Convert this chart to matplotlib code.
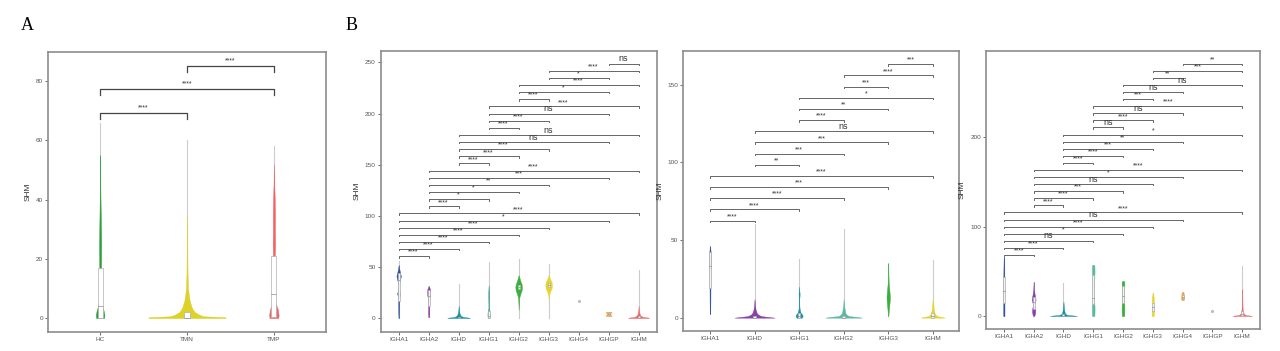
import matplotlib
matplotlib.use("Agg")
import matplotlib.pyplot as plt

plt.rcParams["font.family"] = ["Liberation Sans", "DejaVu Sans"]

# ---------------- panel A ----------------
a_groups = ["HC", "TMN", "TMP"]
a_colors = ["#2e9e3a", "#ddd22a", "#f06464"]
a_range = [(0, 66), (0, 60), (0, 58)]
a_prof_y = [
    [0, 1, 2.5, 4, 6, 10, 17, 25, 35, 45, 55],
    [0, 0.3, 0.6, 1, 1.5, 2, 3, 4, 5, 6, 8, 10, 15, 25, 35],
    [0, 1, 3, 5, 8, 12, 20, 25, 30, 35, 40, 45, 52],
]
a_prof_w = [
    [0.045, 0.05, 0.04, 0.025, 0.015, 0.012, 0.01, 0.012, 0.007, 0.002, 0.0],
    [0.445, 0.44, 0.2, 0.15, 0.12, 0.09, 0.065, 0.05, 0.04, 0.03, 0.02, 0.012, 0.006, 0.003, 0.0],
    [0.05, 0.055, 0.045, 0.02, 0.012, 0.01, 0.01, 0.014, 0.012, 0.013, 0.01, 0.004, 0.0],
]
a_box = [(0, 4, 17), (0, 0, 2), (0.5, 8, 21)]
a_pairs = [(1, 2), (1, 3), (2, 3)]
a_labels = ["****", "****", "****"]

# ---------------- panel B1 ----------------
b1_groups = ["IGHA1", "IGHA2", "IGHD", "IGHG1", "IGHG2", "IGHG3", "IGHG4", "IGHGP", "IGHM"]
b1_colors = ["#2d4e9c", "#8a3fa5", "#1b8fa8", "#3aa08a", "#3baf3b", "#e5d52e", "#f0a23c", "#f0a23c", "#ee6a6a"]
b1_range = [(0, 56), (1, 31), (0, 33), (0, 55), (0, 58), (0, 53), (17, 17), (2, 6), (0, 47)]
b1_prof_y = [
    [0, 5, 10, 15, 20, 24, 26, 30, 35, 38, 41, 44, 48, 52],
    [1, 5, 10, 15, 20, 22, 25, 28, 31],
    [0, 0.5, 1, 2, 3, 5, 8, 12],
    [0, 2, 4, 6, 8, 10, 15, 20, 25, 28, 32],
    [8, 14, 20, 24, 27, 30, 33, 36, 42],
    [18, 22, 26, 29, 32, 35, 38, 42],
    [],
    [2, 3, 4, 5, 6],
    [0, 0.5, 1, 2, 3, 5, 8, 12],
]
b1_prof_w = [
    [0.008, 0.012, 0.015, 0.015, 0.02, 0.05, 0.03, 0.018, 0.03, 0.05, 0.075, 0.05, 0.02, 0],
    [0.015, 0.02, 0.018, 0.018, 0.03, 0.045, 0.05, 0.045, 0.01],
    [0.38, 0.3, 0.15, 0.08, 0.05, 0.025, 0.01, 0],
    [0.03, 0.04, 0.04, 0.035, 0.02, 0.008, 0.01, 0.014, 0.014, 0.008, 0],
    [0, 0.008, 0.02, 0.06, 0.1, 0.11, 0.1, 0.06, 0],
    [0, 0.01, 0.05, 0.1, 0.11, 0.1, 0.05, 0],
    [],
    [0.1, 0.08, 0.05, 0.08, 0.1],
    [0.35, 0.3, 0.15, 0.08, 0.05, 0.025, 0.01, 0],
]
b1_box = [(17, 37, 44), (12, 22, 27), (0, 0, 1), (0, 2, 7), (28, 30, 32), (30, 32, 34), None, (3, 4, 5), (0, 0, 2)]
b1_pairs = [(1, 2), (1, 3), (1, 4), (1, 5), (1, 6), (1, 8), (1, 9),
            (2, 3), (2, 4), (2, 5), (2, 6), (2, 8), (2, 9),
            (3, 4), (3, 5), (3, 6), (3, 8), (3, 9),
            (4, 5), (4, 6), (4, 8), (4, 9),
            (5, 6), (5, 8), (5, 9), (6, 8), (6, 9), (8, 9)]
b1_labels = ["****", "****", "****", "****", "****", "*", "****",
             "****", "*", "*", "**", "***", "****",
             "****", "****", "****", "ns", "ns",
             "****", "****", "ns", "****",
             "****", "*", "****", "*", "****", "ns"]

# ---------------- panel B2 ----------------
b2_groups = ["IGHA1", "IGHD", "IGHG1", "IGHG2", "IGHG3", "IGHM"]
b2_colors = ["#2d4e9c", "#8a3fa5", "#1b8fa8", "#5db8a0", "#3baf3b", "#e5d52e"]
b2_range = [(2.4, 46), (0, 60.5), (0, 38), (0, 57), (1, 35), (0, 37)]
b2_prof_y = [
    [2.4, 10, 19, 30, 34, 38, 42, 46],
    [0, 0.5, 1, 2, 3, 5, 8, 12],
    [0, 1, 2, 3, 4, 6, 8, 12, 14, 15.5, 17, 20],
    [0, 0.5, 1, 2, 3, 5, 8, 12],
    [1, 4, 8, 11, 13, 15, 18, 22, 27, 35],
    [0, 0.5, 1, 2, 3, 5, 8, 12],
]
b2_prof_w = [
    [0.005, 0.008, 0.01, 0.012, 0.02, 0.02, 0.015, 0.003],
    [0.45, 0.3, 0.15, 0.08, 0.05, 0.025, 0.01, 0],
    [0.06, 0.08, 0.07, 0.04, 0.025, 0.01, 0.005, 0.003, 0.01, 0.012, 0.006, 0],
    [0.41, 0.3, 0.12, 0.06, 0.04, 0.025, 0.01, 0],
    [0.003, 0.012, 0.025, 0.035, 0.038, 0.035, 0.025, 0.012, 0.006, 0.002],
    [0.27, 0.2, 0.1, 0.06, 0.04, 0.025, 0.015, 0],
]
b2_box = [(19, 33, 42), (0, 0, 1), (0, 1, 3), (0, 0, 1), None, (0, 1, 3)]
b2_pairs = [(1, 2), (1, 3), (1, 4), (1, 5), (1, 6),
            (2, 3), (2, 4), (2, 5), (2, 6),
            (3, 4), (3, 5), (3, 6), (4, 5), (4, 6), (5, 6)]
b2_labels = ["****", "****", "****", "***", "****",
             "**", "***", "***", "ns",
             "****", "**", "*", "***", "****", "***"]

# ---------------- panel B3 ----------------
b3_groups = ["IGHA1", "IGHA2", "IGHD", "IGHG1", "IGHG2", "IGHG3", "IGHG4", "IGHGP", "IGHM"]
b3_colors = ["#2d4e9c", "#8a3fa5", "#1b8fa8", "#5db8a0", "#3baf3b", "#e5d52e", "#f0a23c", "#f0a23c", "#ee6a6a"]
b3_range = [(0, 66), (0, 38), (0, 37), (0, 57), (0, 39), (0, 25.4), (18, 27), (5.6, 5.6), (0, 56)]
b3_prof_y = [
    [0, 10, 20, 25, 28, 32, 40, 50, 60, 66],
    [0, 2, 5, 8, 11, 13, 15, 18, 21, 25, 30, 38],
    [0, 0.5, 1, 2, 3, 5, 8, 12, 16],
    [0, 5, 10, 13, 20, 30, 45, 50, 57],
    [0, 5, 10, 15, 20, 25, 30, 33, 36, 39],
    [0, 3, 6, 9, 12, 15, 18, 21, 25],
    [18, 19, 20, 21, 23, 25, 26, 27],
    [],
    [0, 0.5, 1, 2, 3, 5, 8, 12, 20, 30],
]
b3_prof_w = [
    [0.02, 0.02, 0.018, 0.02, 0.025, 0.02, 0.018, 0.015, 0.01, 0.003],
    [0.02, 0.04, 0.055, 0.05, 0.03, 0.02, 0.04, 0.065, 0.055, 0.03, 0.012, 0.002],
    [0.45, 0.35, 0.15, 0.08, 0.05, 0.035, 0.02, 0.01, 0],
    [0.04, 0.045, 0.045, 0.04, 0.03, 0.03, 0.04, 0.045, 0.04],
    [0.04, 0.045, 0.045, 0.04, 0.03, 0.03, 0.035, 0.045, 0.045, 0.04],
    [0.03, 0.04, 0.04, 0.035, 0.03, 0.03, 0.035, 0.03, 0.01],
    [0.04, 0.055, 0.055, 0.05, 0.04, 0.04, 0.03, 0.01],
    [],
    [0.33, 0.25, 0.12, 0.07, 0.05, 0.03, 0.018, 0.012, 0.006, 0],
]
b3_box = [(14, 28, 44), (8, 16, 21), (0, 0, 2), (13, 20, 46), (15, 22, 33), (5, 10, 15), (20, 21, 23), None, (0, 2, 5)]
b3_pairs = [(1, 2), (1, 3), (1, 4), (1, 5), (1, 6), (1, 7), (1, 9),
            (2, 3), (2, 4), (2, 5), (2, 6), (2, 7), (2, 9),
            (3, 4), (3, 5), (3, 6), (3, 7), (3, 9),
            (4, 5), (4, 6), (4, 7), (4, 9),
            (5, 6), (5, 7), (5, 9), (6, 7), (6, 9), (7, 9)]
b3_labels = ["****", "****", "ns", "*", "****", "ns", "****",
             "****", "****", "***", "ns", "*", "****",
             "****", "****", "***", "**", "*",
             "ns", "****", "ns", "****",
             "***", "ns", "ns", "**", "***", "**"]


def draw_panel(ax, groups, colors, rng, prof_y, prof_w, box, box_w, box_face):
    for i in range(len(groups)):
        x = i + 1
        lo, hi = rng[i]
        if lo == hi:
            ax.plot(x, lo, "o", ms=1.2, color="#bbbbbb", zorder=3)
            continue
        ax.plot([x, x], [lo, hi], color="#cccccc", lw=0.8, zorder=1)
        ys = prof_y[i]
        ws = prof_w[i]
        if ys:
            left = [x - w for w in ws]
            right = [x + w for w in ws]
            ax.fill_betweenx(ys, left, right, facecolor=colors[i],
                             edgecolor=colors[i], lw=0.3, zorder=2)
        if box[i] is not None:
            q1, med, q3 = box[i]
            ax.add_patch(plt.Rectangle((x - box_w, q1), 2 * box_w, q3 - q1,
                                       facecolor=box_face, edgecolor="#b0b0b0",
                                       lw=0.5, zorder=3))
            ax.plot([x - box_w, x + box_w], [med, med], color="#a0a0a0", lw=0.6, zorder=4)
    ax.set_xticks(range(1, len(groups) + 1))
    ax.set_xticklabels(groups)
    ax.set_xlim(0.4, len(groups) + 0.6)


def draw_brackets(ax, pairs, labels, y0, step, tip, color, lw):
    for k, (pair, lab) in enumerate(zip(pairs, labels)):
        i, j = pair
        y = y0 + k * step
        ax.plot([i, i, j, j], [y - tip, y, y, y - tip], color=color, lw=lw, zorder=5)
        fs = 6.5 if lab == "ns" else 5
        ax.text((i + j) / 2, y + tip * 0.3, lab, ha="center", va="bottom",
                fontsize=fs, color="#333333", zorder=6)


def style(ax, yticks, ylim):
    ax.set_ylim(*ylim)
    ax.set_yticks(yticks)
    for s in ax.spines.values():
        s.set_color("#8c8c8c")
        s.set_linewidth(1.2)
    ax.tick_params(axis="both", length=2, width=0.6, color="#555555",
                   labelsize=4.6, labelcolor="#555555", pad=1.5)
    ax.set_ylabel("SHM", fontsize=6, color="#333333", labelpad=3)


fig = plt.figure(figsize=(12.8, 3.51), dpi=100)

axA = fig.add_axes([0.0375, 0.0541, 0.2172, 0.7977])
draw_panel(axA, a_groups, a_colors, a_range, a_prof_y, a_prof_w, a_box, 0.03, "white")
draw_brackets(axA, a_pairs, a_labels, 69.3, 7.85, 2.0, "#444444", 0.9)
style(axA, [0, 20, 40, 60, 80], (-4.7, 89.8))

axB1 = fig.add_axes([0.2974, 0.0550, 0.2156, 0.8006])
draw_panel(axB1, b1_groups, b1_colors, b1_range, b1_prof_y, b1_prof_w, b1_box, 0.03, "#f2f2f2")
draw_brackets(axB1, b1_pairs, b1_labels, 60.4, 6.98, 1.3, "#666666", 0.7)
style(axB1, [0, 50, 100, 150, 200, 250], (-13.4, 261.5))

axB2 = fig.add_axes([0.5338, 0.0578, 0.2158, 0.7977])
draw_panel(axB2, b2_groups, b2_colors, b2_range, b2_prof_y, b2_prof_w, b2_box, 0.03, "#f2f2f2")
draw_brackets(axB2, b2_pairs, b2_labels, 62.5, 7.2, 1.0, "#666666", 0.7)
style(axB2, [0, 50, 100, 150], (-8.4, 172))

axB3 = fig.add_axes([0.7703, 0.0627, 0.2141, 0.7929])
draw_panel(axB3, b3_groups, b3_colors, b3_range, b3_prof_y, b3_prof_w, b3_box, 0.035, "#f2f2f2")
draw_brackets(axB3, b3_pairs, b3_labels, 68.3, 7.93, 1.5, "#666666", 0.7)
style(axB3, [0, 100, 200], (-14.6, 297))

fig.text(27 / 1280, 1 - 26 / 351, "A", fontsize=13, family="Liberation Serif", ha="center", va="center")
fig.text(352 / 1280, 1 - 26 / 351, "B", fontsize=13, family="Liberation Serif", ha="center", va="center")

fig.savefig("out.png", dpi=100)
